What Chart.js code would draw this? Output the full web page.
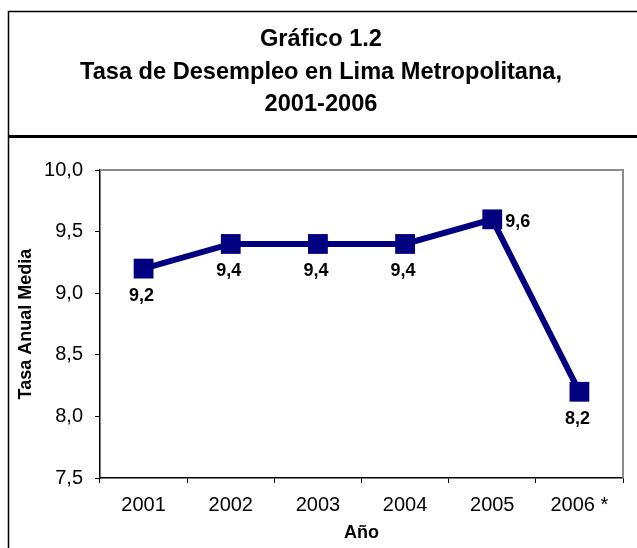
<!DOCTYPE html>
<html>
<head>
<meta charset="utf-8">
<script src="https://cdn.jsdelivr.net/npm/chart.js@4.4.1/dist/chart.umd.min.js"></script>
<style>
  html, body { margin: 0; padding: 0; background: #ffffff; }
  #wrap { position: relative; width: 637px; height: 548px; }
  canvas { display: block; }
</style>
</head>
<body>
<div id="wrap"><canvas id="c" width="637" height="548"></canvas></div>
<script>
// ---- data ----
const titleLines = ['Gráfico 1.2', 'Tasa de Desempleo en Lima Metropolitana,', '2001-2006'];
const years = ['2001', '2002', '2003', '2004', '2005', '2006 *'];
const tasa = [9.2, 9.4, 9.4, 9.4, 9.6, 8.2];
const yTicks = [7.5, 8.0, 8.5, 9.0, 9.5, 10.0];
const yAxisTitle = 'Tasa Anual Media';
const xAxisTitle = 'Año';
const labelPlacement = ['below', 'below', 'below', 'below', 'right', 'below'];

const FONT = "'Liberation Sans', Arial, sans-serif";
const NAVY = '#000080';

const fmt = v => v.toFixed(1).replace('.', ',');

const framePlugin = {
  id: 'frame',
  beforeDraw(chart) {
    const ctx = chart.ctx;
    ctx.save();
    ctx.fillStyle = '#ffffff';
    ctx.fillRect(0, 0, chart.width, chart.height);
    ctx.strokeStyle = '#000000';
    ctx.lineWidth = 1.5;
    ctx.beginPath();
    ctx.moveTo(8.5, chart.height);
    ctx.lineTo(8.5, 11.5);
    ctx.lineTo(chart.width, 11.5);
    ctx.stroke();
    ctx.lineWidth = 3;
    ctx.beginPath();
    ctx.moveTo(8, 136.5);
    ctx.lineTo(chart.width, 136.5);
    ctx.stroke();
    ctx.restore();
  },
  beforeDatasetsDraw(chart) {
    const a = chart.chartArea;
    const ctx = chart.ctx;
    ctx.save();
    ctx.strokeStyle = '#8c8c8c';
    ctx.lineWidth = 2;
    ctx.beginPath();
    ctx.moveTo(a.left, a.top);
    ctx.lineTo(a.right, a.top);
    ctx.lineTo(a.right, a.bottom);
    ctx.stroke();
    ctx.restore();
  }
};

const labelPlugin = {
  id: 'valueLabels',
  afterDatasetsDraw(chart) {
    const ctx = chart.ctx;
    const meta = chart.getDatasetMeta(0);
    ctx.save();
    ctx.font = 'bold 18px ' + FONT;
    ctx.fillStyle = '#000000';
    meta.data.forEach((pt, i) => {
      const txt = fmt(tasa[i]);
      if (labelPlacement[i] === 'right') {
        ctx.textAlign = 'left';
        ctx.textBaseline = 'middle';
        ctx.fillText(txt, pt.x + 13, pt.y + 3);
      } else {
        ctx.textAlign = 'center';
        ctx.textBaseline = 'middle';
        ctx.fillText(txt, pt.x - 2, pt.y + 27);
      }
    });
    ctx.restore();
  }
};

new Chart(document.getElementById('c'), {
  type: 'line',
  data: {
    labels: years,
    datasets: [{
      data: tasa,
      borderColor: NAVY,
      backgroundColor: NAVY,
      borderWidth: 6,
      tension: 0,
      pointStyle: 'rect',
      pointRadius: 14,
      pointHoverRadius: 14,
      pointBorderWidth: 0,
      pointBackgroundColor: NAVY,
      clip: false
    }]
  },
  options: {
    responsive: false,
    animation: false,
    devicePixelRatio: 1,
    events: [],
    layout: { padding: { left: 5, right: 0, top: 0, bottom: 0 } },
    plugins: {
      legend: { display: false },
      tooltip: { enabled: false },
      title: {
        display: true,
        text: titleLines,
        color: '#000000',
        font: { family: FONT, size: 23.6, weight: 'bold', lineHeight: 1.385 },
        padding: { top: 23, bottom: 49 }
      }
    },
    scales: {
      x: {
        type: 'category',
        offset: true,
        grid: {
          display: true,
          offset: true,
          drawOnChartArea: false,
          drawTicks: true,
          tickLength: 5,
          color: '#000000',
          lineWidth: 1
        },
        border: { display: true, color: '#000000', width: 1.5 },
        ticks: {
          color: '#000000',
          font: { family: FONT, size: 20 },
          padding: 10,
          maxRotation: 0,
          autoSkip: false
        },
        title: {
          display: true,
          text: xAxisTitle,
          color: '#000000',
          font: { family: FONT, size: 18, weight: 'bold' },
          padding: { top: 0, bottom: 4 }
        },
        afterFit(scale) { scale.height = 70; }
      },
      y: {
        min: 7.5,
        max: 10,
        afterBuildTicks(scale) { scale.ticks = yTicks.map(v => ({ value: v })); },
        grid: {
          display: true,
          drawOnChartArea: false,
          drawTicks: true,
          tickLength: 5,
          color: '#000000',
          lineWidth: 1
        },
        border: { display: true, color: '#000000', width: 1.5 },
        ticks: {
          color: '#000000',
          font: { family: FONT, size: 20 },
          padding: 12,
          callback: v => fmt(v)
        },
        title: {
          display: true,
          text: yAxisTitle,
          color: '#000000',
          font: { family: FONT, size: 18, weight: 'bold' },
          padding: { top: 10, bottom: 0 }
        },
        afterFit(scale) { scale.width = 95; }
      },
      yRight: {
        position: 'right',
        min: 7.5,
        max: 10,
        grid: { display: false, drawTicks: false },
        border: { display: false },
        ticks: { display: false },
        afterFit(scale) { scale.width = 14; }
      }
    }
  },
  plugins: [framePlugin, labelPlugin]
});
</script>
</body>
</html>
